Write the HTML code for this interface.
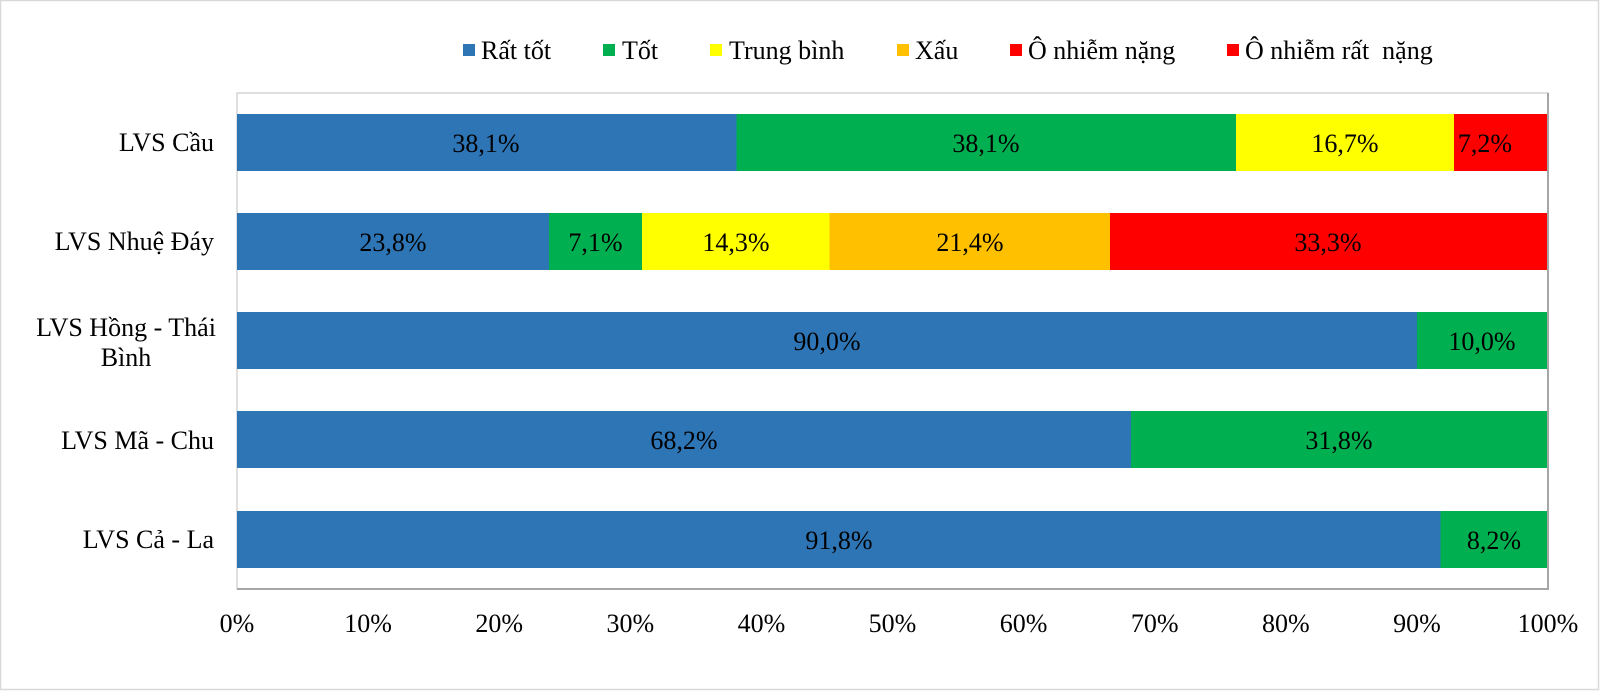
<!DOCTYPE html>
<html>
<head>
<meta charset="utf-8">
<style>
  html,body{margin:0;padding:0;background:#fff;}
  svg{display:block;}
  text{font-family:"Liberation Serif","Times New Roman",serif;font-size:26px;fill:#000;}
</style>
</head>
<body>
<svg width="1600" height="691" viewBox="0 0 1600 691" xmlns="http://www.w3.org/2000/svg">
  <!-- outer border -->
  <rect x="0.5" y="0.5" width="1598" height="689" fill="#fff" stroke="#d9d9d9" stroke-width="1.5"/>

  <!-- legend -->
  <rect x="463" y="44" width="12" height="12" fill="#2E75B6"/>
  <text x="481" y="59">Rất tốt</text>
  <rect x="603" y="44" width="12" height="12" fill="#00B050"/>
  <text x="622" y="59">Tốt</text>
  <rect x="710" y="44" width="12" height="12" fill="#FFFF00"/>
  <text x="729" y="59">Trung bình</text>
  <rect x="897" y="44" width="12" height="12" fill="#FFC000"/>
  <text x="915" y="59">Xấu</text>
  <rect x="1010" y="44" width="12" height="12" fill="#FF0000"/>
  <text x="1028" y="59">Ô nhiễm nặng</text>
  <rect x="1227" y="44" width="12" height="12" fill="#FF0000"/>
  <text x="1245" y="59" xml:space="preserve">Ô nhiễm rất  nặng</text>

  <!-- plot area -->
  <rect x="237" y="93" width="1311" height="496" fill="#fff" stroke="#bfbfbf" stroke-width="1"/>
  <line x1="1548" y1="93" x2="1548" y2="590" stroke="#a6a6a6" stroke-width="2"/>
  <line x1="237" y1="589" x2="1549" y2="589" stroke="#a6a6a6" stroke-width="2"/>

  <!-- LVS Cầu -->
  <rect x="237" y="114" width="499.5" height="57" fill="#2E75B6"/>
  <rect x="736.5" y="114" width="499.5" height="57" fill="#00B050"/>
  <rect x="1236" y="114" width="218" height="57" fill="#FFFF00"/>
  <rect x="1454" y="114" width="93" height="57" fill="#FF0000"/>
  <text x="486" y="152" text-anchor="middle">38,1%</text>
  <text x="986" y="152" text-anchor="middle">38,1%</text>
  <text x="1345" y="152" text-anchor="middle">16,7%</text>
  <text x="1485" y="152" text-anchor="middle">7,2%</text>

  <!-- LVS Nhuệ Đáy -->
  <rect x="237" y="213" width="312" height="57" fill="#2E75B6"/>
  <rect x="549" y="213" width="93" height="57" fill="#00B050"/>
  <rect x="642" y="213" width="187.5" height="57" fill="#FFFF00"/>
  <rect x="829.5" y="213" width="280.5" height="57" fill="#FFC000"/>
  <rect x="1110" y="213" width="437" height="57" fill="#FF0000"/>
  <text x="393" y="251" text-anchor="middle">23,8%</text>
  <text x="595.5" y="251" text-anchor="middle">7,1%</text>
  <text x="736" y="251" text-anchor="middle">14,3%</text>
  <text x="970" y="251" text-anchor="middle">21,4%</text>
  <text x="1328" y="251" text-anchor="middle">33,3%</text>

  <!-- LVS Hồng - Thái Bình -->
  <rect x="237" y="312" width="1180" height="57" fill="#2E75B6"/>
  <rect x="1417" y="312" width="130" height="57" fill="#00B050"/>
  <text x="827" y="350" text-anchor="middle">90,0%</text>
  <text x="1482" y="350" text-anchor="middle">10,0%</text>

  <!-- LVS Mã - Chu -->
  <rect x="237" y="411" width="894" height="57" fill="#2E75B6"/>
  <rect x="1131" y="411" width="416" height="57" fill="#00B050"/>
  <text x="684" y="449" text-anchor="middle">68,2%</text>
  <text x="1339" y="449" text-anchor="middle">31,8%</text>

  <!-- LVS Cả - La -->
  <rect x="237" y="511" width="1203.5" height="57" fill="#2E75B6"/>
  <rect x="1440.5" y="511" width="106.5" height="57" fill="#00B050"/>
  <text x="839" y="549" text-anchor="middle">91,8%</text>
  <text x="1494" y="549" text-anchor="middle">8,2%</text>

  <!-- category labels -->
  <text x="214" y="151" text-anchor="end">LVS Cầu</text>
  <text x="214" y="250" text-anchor="end">LVS Nhuệ Đáy</text>
  <text x="126" y="336" text-anchor="middle">LVS Hồng - Thái</text>
  <text x="126" y="366" text-anchor="middle">Bình</text>
  <text x="214" y="449" text-anchor="end">LVS Mã - Chu</text>
  <text x="214" y="548" text-anchor="end">LVS Cả - La</text>

  <!-- x axis labels -->
  <text x="237" y="632" text-anchor="middle">0%</text>
  <text x="368.1" y="632" text-anchor="middle">10%</text>
  <text x="499.2" y="632" text-anchor="middle">20%</text>
  <text x="630.3" y="632" text-anchor="middle">30%</text>
  <text x="761.4" y="632" text-anchor="middle">40%</text>
  <text x="892.5" y="632" text-anchor="middle">50%</text>
  <text x="1023.6" y="632" text-anchor="middle">60%</text>
  <text x="1154.7" y="632" text-anchor="middle">70%</text>
  <text x="1285.8" y="632" text-anchor="middle">80%</text>
  <text x="1416.9" y="632" text-anchor="middle">90%</text>
  <text x="1548" y="632" text-anchor="middle">100%</text>
</svg>
</body>
</html>
